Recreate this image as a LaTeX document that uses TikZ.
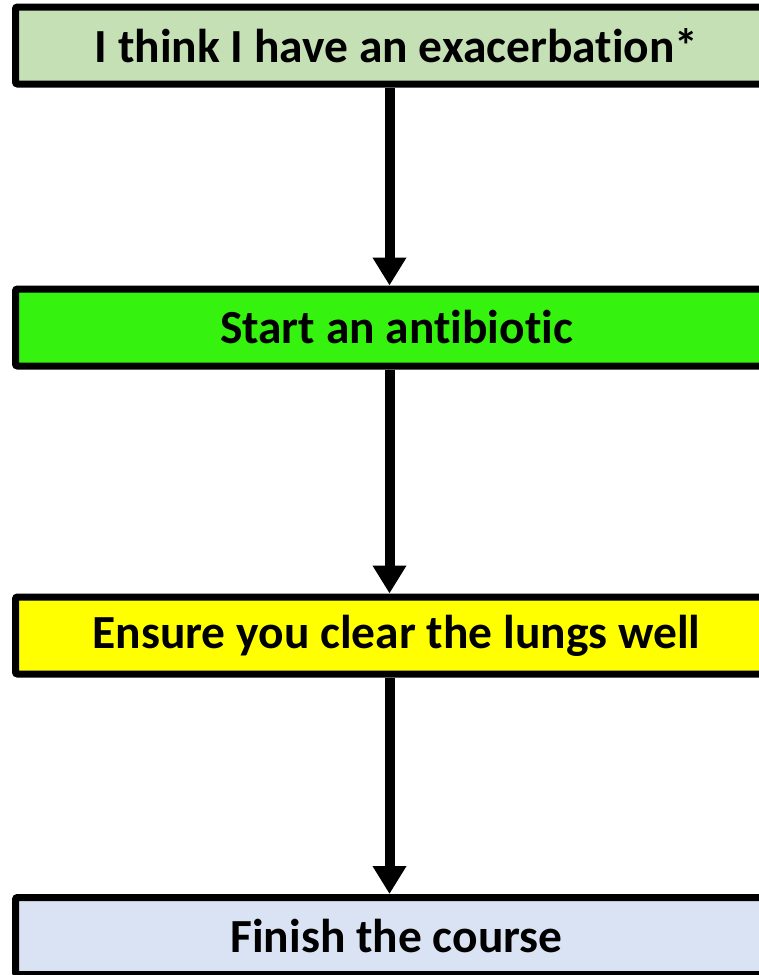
\documentclass[tikz,border=0pt]{standalone}
\usepackage{fontspec}
\setmainfont[Ligatures={NoCommon}]{Carlito}
\usetikzlibrary{arrows.meta}
\definecolor{boxA}{HTML}{C5E0B4}
\definecolor{boxB}{HTML}{35F20F}
\definecolor{boxC}{HTML}{FFFF00}
\definecolor{boxD}{HTML}{DAE3F3}
\tikzset{
  flowbox/.style={draw=black, line width=7pt, rounded corners=2pt,
    minimum width=762pt, minimum height=77pt, inner sep=0pt,
    font=\fontsize{47.5}{55}\selectfont\bfseries, text=black},
  flowarrow/.style={draw=black, line width=10pt,
    -{Triangle[width=32pt,length=28pt]}}
}
\begin{document}
\begin{tikzpicture}[x=1pt,y=-1pt]
\useasboundingbox (0,0) rectangle (759,975);
\clip (0,0) rectangle (759,975);
\node[flowbox, fill=boxA] (a) at (396.5,45.5) {I think I have an exacerbation*};
\node[flowbox, fill=boxB] (b) at (396.5,327.5) {Start an antibiotic};
\node[flowbox, fill=boxC] (c) at (396.5,635.5) {Ensure you clear the lungs well};
\node[flowbox, fill=boxD] (d) at (396.5,936) {Finish the course};
\draw[flowarrow] ([xshift=-7pt]a.south) -- ([xshift=-7pt]b.north);
\draw[flowarrow] ([xshift=-7pt]b.south) -- ([xshift=-7pt]c.north);
\draw[flowarrow] ([xshift=-7pt]c.south) -- ([xshift=-7pt]d.north);
\end{tikzpicture}
\end{document}
